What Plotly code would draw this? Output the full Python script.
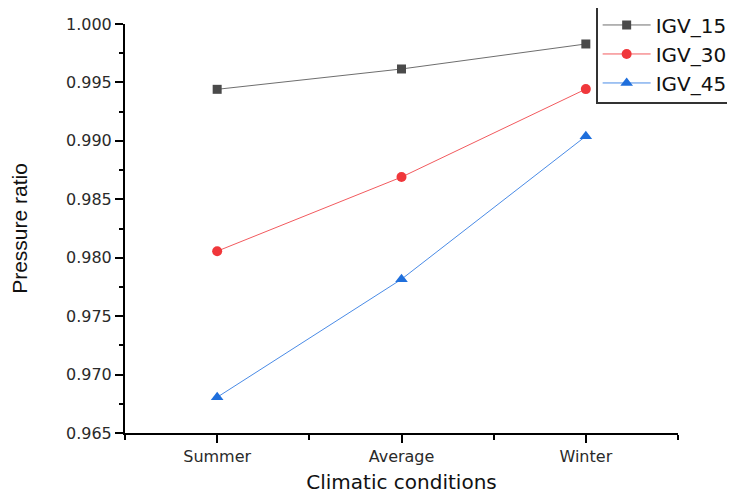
import plotly.graph_objects as go

categories = ["Summer", "Average", "Winter"]
igv_15 = [0.99441, 0.99615, 0.99829]
igv_30 = [0.98056, 0.98690, 0.99443]
igv_45 = [0.96806, 0.97816, 0.99040]
y_ticks = [0.965, 0.970, 0.975, 0.980, 0.985, 0.990, 0.995, 1.000]

xpos = list(range(1, len(categories) + 1))

fig = go.Figure()
series = [
    ("IGV_15", igv_15, "#4a4a4a", "#6e6e6e", "square", 9),
    ("IGV_30", igv_30, "#f0373b", "#f25a5e", "circle", 10),
    ("IGV_45", igv_45, "#1f6fdc", "#4a8be6", "triangle-up", 11),
]
for name, vals, mc, lc, sym, sz in series:
    fig.add_trace(go.Scatter(
        x=xpos, y=vals, name=name, mode="lines+markers",
        line=dict(color=lc, width=1),
        marker=dict(symbol=sym, size=sz, color=mc, line=dict(width=0)),
    ))

wide = "DejaVu Sans, Arial, sans-serif"
narrow = "Liberation Sans, Arial, sans-serif"
axis_font = dict(family=wide, size=16, color="#2a2a2a")
fig.update_layout(
    width=735, height=498,
    margin=dict(l=117, r=65, t=16, b=73, autoexpand=False),
    paper_bgcolor="white", plot_bgcolor="white",
    font=dict(family=wide, color="#111111"),
    showlegend=True,
    legend=dict(
        x=0.852, y=1.049, xanchor="left", yanchor="top",
        bordercolor="#333333", borderwidth=1.5, bgcolor="white",
        font=dict(family=wide, size=20, color="#111111"),
        tracegroupgap=0, itemwidth=48,
    ),
    xaxis=dict(
        range=[0.5, 3.5], tickvals=xpos, ticktext=categories,
        showline=True, linecolor="black", linewidth=2, mirror=False,
        ticks="outside", ticklen=8, tickwidth=2, tickcolor="black",
        minor=dict(tickvals=[0.5, 1.5, 2.5, 3.5], ticks="outside", ticklen=5, tickwidth=2, tickcolor="black"),
        showgrid=False, zeroline=False, automargin=False,
        tickfont=axis_font,
        title=dict(text="Climatic conditions", font=dict(family=wide, size=20, color="#111111"), standoff=10),
    ),
    yaxis=dict(
        range=[0.965, 1.000], tickvals=y_ticks, tickformat=".3f",
        showline=True, linecolor="black", linewidth=2,
        ticks="outside", ticklen=8, tickwidth=2, tickcolor="black",
        minor=dict(dtick=0.0025, tick0=0.965, ticks="outside", ticklen=4, tickwidth=2, tickcolor="black"),
        showgrid=False, zeroline=False, automargin=False,
        tickfont=axis_font,
        title=dict(text="Pressure ratio", font=dict(family=narrow, size=21, color="#111111"), standoff=36),
    ),
)

fig.write_html("out.html")
